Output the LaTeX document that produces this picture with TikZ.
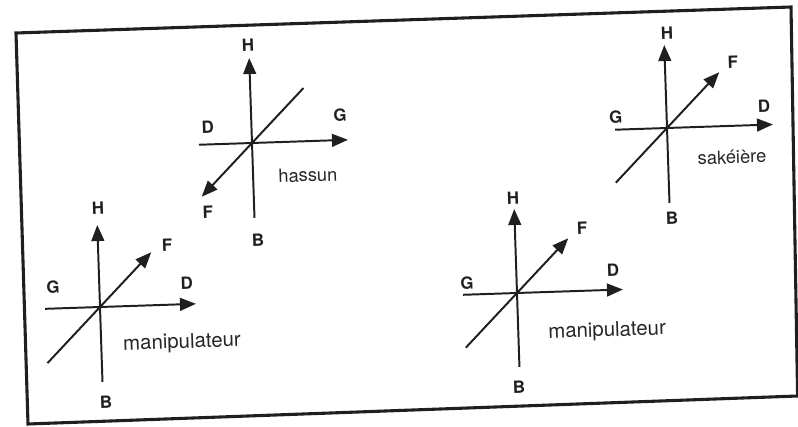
\documentclass[tikz,border=0pt]{standalone}
\usepackage{fontspec}
\setmainfont{TeX Gyre Heros}
\usetikzlibrary{arrows.meta}

\begin{document}
\begin{tikzpicture}[
  outline/.style={draw=black!88,line width=2.2pt},
  axis/.style={draw=black!88,line width=1.4pt},
  axisarrow/.style={axis,-{Triangle[length=4mm,width=3.2mm]}},
  letter/.style={font=\bfseries\fontsize{12}{12}\selectfont,text=black!88,inner sep=0pt},
  caption/.style={font=\fontsize{13}{13}\selectfont,text=black!85,inner sep=0pt},
  longcaption/.style={font=\fontsize{14.5}{14.5}\selectfont,text=black!85,inner sep=0pt},
]
\useasboundingbox (0,0) rectangle (19.95,10.65);

% skewed outer frame of the scan
\draw[outline] (0.40,9.825) -- (19.775,10.475) -- (19.94,0.75) -- (0.70,0.05) -- cycle;

% hassun
\begin{scope}[shift={(6.30,7.075)},rotate=1.9,transform shape]
  \coordinate (o1) at (0,0);
  \coordinate (h1) at (0,2.125);
  \coordinate (b1) at (0,-1.875);
  \coordinate (d1) at (-1.33,0);
  \coordinate (g1) at (2.4,0);
  \coordinate (e1) at (1.33,1.33);
  \coordinate (f1) at (-1.30,-1.30);
  \draw[axisarrow] (b1) -- (h1);
  \draw[axisarrow] (d1) -- (g1);
  \draw[axisarrow] (e1) -- (f1);
  \node[letter] (H1) at (-0.02,2.45) {H};
  \node[letter] (B1) at (0.07,-2.43) {B};
  \node[letter] (D1) at (-1.09,0.44) {D};
  \node[letter] (G1) at (2.22,0.63) {G};
  \node[letter] (F1) at (-1.16,-1.69) {F};
  \node[caption] (n1) at (1.37,-0.85) {hassun};
\end{scope}

% manipulateur, left
\begin{scope}[shift={(2.50,2.975)},rotate=1.9,transform shape]
  \coordinate (o2) at (0,0);
  \coordinate (h2) at (0,2.05);
  \coordinate (b2) at (0,-1.875);
  \coordinate (g2) at (-1.375,0);
  \coordinate (d2) at (2.4,0);
  \coordinate (f2) at (1.325,1.325);
  \coordinate (k2) at (-1.36,-1.36);
  \draw[axisarrow] (b2) -- (h2);
  \draw[axisarrow] (g2) -- (d2);
  \draw[axisarrow] (k2) -- (f2);
  \node[letter] (H2) at (0.03,2.48) {H};
  \node[letter] (B2) at (0.07,-2.38) {B};
  \node[letter] (G2) at (-1.16,0.54) {G};
  \node[letter] (D2) at (2.19,0.53) {D};
  \node[letter] (F2) at (1.73,1.49) {F};
  \node[longcaption] (n2) at (2.02,-0.97) {manipulateur};
\end{scope}

% manipulateur, right
\begin{scope}[shift={(12.925,3.325)},rotate=1.9,transform shape]
  \coordinate (o3) at (0,0);
  \coordinate (h3) at (0,2.1);
  \coordinate (b3) at (0,-1.85);
  \coordinate (g3) at (-1.35,0);
  \coordinate (d3) at (2.65,0);
  \coordinate (f3) at (1.325,1.325);
  \coordinate (k3) at (-1.325,-1.325);
  \draw[axisarrow] (b3) -- (h3);
  \draw[axisarrow] (g3) -- (d3);
  \draw[axisarrow] (k3) -- (f3);
  \node[letter] (H3) at (-0.02,2.38) {H};
  \node[letter] (B3) at (-0.03,-2.35) {B};
  \node[letter] (G3) at (-1.24,0.29) {G};
  \node[letter] (D3) at (2.42,0.50) {D};
  \node[letter] (F3) at (1.68,1.57) {F};
  \node[longcaption] (n3) at (2.22,-1.03) {manipulateur};
\end{scope}

% sakeiere
\begin{scope}[shift={(16.675,7.45)},rotate=1.9,transform shape]
  \coordinate (o4) at (0,0);
  \coordinate (h4) at (0,2.075);
  \coordinate (b4) at (0,-1.875);
  \coordinate (g4) at (-1.3,0);
  \coordinate (d4) at (2.65,0);
  \coordinate (f4) at (1.35,1.35);
  \coordinate (k4) at (-1.325,-1.325);
  \draw[axisarrow] (b4) -- (h4);
  \draw[axisarrow] (g4) -- (d4);
  \draw[axisarrow] (k4) -- (f4);
  \node[letter] (H4) at (0.08,2.375) {H};
  \node[letter] (B4) at (0.05,-2.25) {B};
  \node[letter] (G4) at (-1.27,0.32) {G};
  \node[letter] (D4) at (2.44,0.47) {D};
  \node[letter] (F4) at (1.70,1.60) {F};
  \node[caption] (n4) at (1.60,-0.78) {sakéière};
\end{scope}

\end{tikzpicture}
\end{document}
